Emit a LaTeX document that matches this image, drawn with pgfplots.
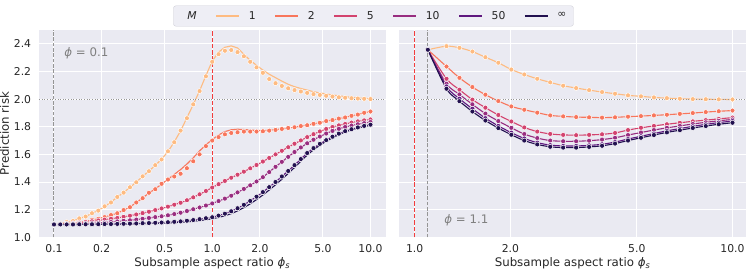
\documentclass[border=0pt]{standalone}
\usepackage{pgfplots}
\pgfplotsset{compat=1.18}
\usepackage{pgfplotstable}
\usepackage{fontspec}
\setmainfont{DejaVu Sans}
\definecolor{cA}{HTML}{FEBB81}
\definecolor{cB}{HTML}{F8765C}
\definecolor{cC}{HTML}{D3436E}
\definecolor{cD}{HTML}{982D80}
\definecolor{cE}{HTML}{5F187F}
\definecolor{cF}{HTML}{221150}
\definecolor{bg}{HTML}{EAEAF2}
\definecolor{tickc}{HTML}{262626}
\definecolor{legfill}{HTML}{EEEEF5}
\definecolor{legedge}{HTML}{D0D0D8}
\definecolor{refred}{HTML}{F23C3C}
\definecolor{refgray}{HTML}{959595}

\pgfplotstableread{
x l1 p1 l2 p2 l5 l10 l50 linf
0.1 1.093 1.093 1.093 1.093 1.093 1.093 1.093 1.093
0.1096 1.100 1.098 1.095 1.094 1.096 1.094 1.093 1.092
0.1202 1.108 1.110 1.098 1.099 1.099 1.095 1.093 1.092
0.1318 1.120 1.118 1.102 1.101 1.102 1.097 1.093 1.092
0.1445 1.135 1.137 1.108 1.108 1.106 1.098 1.094 1.093
0.1585 1.152 1.150 1.115 1.113 1.110 1.100 1.094 1.093
0.1738 1.172 1.174 1.125 1.127 1.116 1.102 1.094 1.093
0.1905 1.195 1.193 1.135 1.134 1.122 1.104 1.095 1.094
0.2089 1.222 1.224 1.147 1.146 1.128 1.107 1.096 1.094
0.2291 1.255 1.252 1.160 1.161 1.134 1.111 1.096 1.095
0.2512 1.290 1.292 1.175 1.174 1.140 1.115 1.097 1.095
0.2754 1.325 1.323 1.195 1.197 1.148 1.119 1.098 1.096
0.3020 1.360 1.362 1.220 1.218 1.156 1.123 1.099 1.097
0.3311 1.400 1.398 1.250 1.252 1.165 1.128 1.100 1.098
0.3631 1.440 1.441 1.285 1.283 1.175 1.134 1.102 1.099
0.3981 1.480 1.478 1.320 1.322 1.185 1.140 1.103 1.100
0.4365 1.520 1.522 1.350 1.348 1.197 1.146 1.105 1.101
0.4786 1.565 1.563 1.385 1.387 1.209 1.152 1.107 1.103
0.5248 1.620 1.622 1.420 1.418 1.222 1.159 1.109 1.104
0.5754 1.690 1.688 1.455 1.440 1.236 1.168 1.112 1.106
0.6310 1.770 1.772 1.490 1.460 1.250 1.178 1.115 1.109
0.6918 1.865 1.862 1.530 1.500 1.268 1.190 1.120 1.112
0.7586 1.960 1.962 1.575 1.550 1.289 1.203 1.125 1.116
0.8318 2.060 2.058 1.625 1.600 1.311 1.216 1.131 1.121
0.9120 2.170 2.165 1.670 1.660 1.335 1.230 1.138 1.127
1.0 2.275 2.270 1.707 1.700 1.360 1.245 1.145 1.134
1.0965 2.340 2.325 1.740 1.725 1.384 1.262 1.157 1.144
1.2023 2.375 2.350 1.765 1.745 1.408 1.280 1.171 1.156
1.3183 2.385 2.355 1.778 1.755 1.431 1.301 1.188 1.171
1.4454 2.370 2.340 1.782 1.760 1.453 1.325 1.210 1.191
1.5849 2.325 2.310 1.780 1.765 1.475 1.350 1.235 1.215
1.7378 2.280 2.270 1.776 1.765 1.499 1.376 1.263 1.242
1.9055 2.245 2.230 1.773 1.765 1.523 1.404 1.294 1.273
2.0893 2.210 2.190 1.772 1.767 1.548 1.435 1.327 1.306
2.2909 2.180 2.145 1.775 1.772 1.574 1.472 1.363 1.342
2.5119 2.155 2.115 1.779 1.777 1.600 1.510 1.400 1.380
2.7542 2.130 2.095 1.785 1.784 1.626 1.546 1.440 1.420
3.0200 2.107 2.078 1.790 1.791 1.652 1.582 1.480 1.462
3.3113 2.090 2.065 1.797 1.796 1.677 1.617 1.522 1.505
3.6308 2.077 2.055 1.804 1.805 1.701 1.650 1.566 1.550
3.9811 2.065 2.045 1.812 1.811 1.725 1.680 1.610 1.595
4.3652 2.054 2.036 1.820 1.821 1.746 1.706 1.645 1.633
4.7863 2.045 2.030 1.830 1.829 1.766 1.729 1.676 1.666
5.2481 2.037 2.024 1.840 1.841 1.784 1.751 1.703 1.695
5.7544 2.030 2.018 1.849 1.848 1.798 1.770 1.728 1.720
6.3096 2.024 2.013 1.858 1.859 1.810 1.785 1.750 1.743
6.9183 2.018 2.010 1.868 1.867 1.820 1.798 1.768 1.762
7.5858 2.013 2.006 1.878 1.879 1.830 1.809 1.782 1.777
8.3176 2.009 2.004 1.889 1.888 1.839 1.818 1.795 1.790
9.1201 2.005 2.002 1.900 1.901 1.846 1.826 1.806 1.801
10.0 2.003 2.000 1.911 1.910 1.853 1.834 1.815 1.810
}\leftdata

\pgfplotstableread{
x r1 r2 r5 r10 r50 rinf
1.1 2.357 2.357 2.357 2.357 2.357 2.357
1.259 2.383 2.236 2.147 2.111 2.092 2.075
1.383 2.371 2.154 2.068 2.034 2.003 1.985
1.519 2.344 2.087 1.996 1.962 1.930 1.910
1.669 2.303 2.032 1.938 1.895 1.862 1.845
1.833 2.263 1.986 1.885 1.841 1.806 1.790
2.014 2.214 1.947 1.838 1.792 1.757 1.742
2.212 2.178 1.923 1.795 1.747 1.715 1.700
2.430 2.147 1.902 1.765 1.718 1.685 1.672
2.669 2.121 1.882 1.748 1.700 1.667 1.655
2.932 2.097 1.875 1.741 1.695 1.661 1.649
3.221 2.080 1.870 1.739 1.695 1.661 1.649
3.538 2.065 1.868 1.741 1.699 1.665 1.654
3.887 2.051 1.866 1.745 1.707 1.673 1.662
4.270 2.039 1.868 1.755 1.720 1.689 1.678
4.690 2.027 1.873 1.776 1.740 1.711 1.700
5.152 2.020 1.877 1.792 1.758 1.731 1.720
5.659 2.012 1.882 1.806 1.776 1.751 1.740
6.217 2.007 1.887 1.818 1.792 1.770 1.759
6.829 2.003 1.893 1.829 1.806 1.787 1.775
7.502 2.000 1.899 1.839 1.820 1.803 1.791
8.241 1.999 1.906 1.848 1.832 1.817 1.805
9.053 1.998 1.912 1.857 1.843 1.830 1.818
10.0 1.997 1.917 1.866 1.853 1.841 1.829
}\rightdata

\begin{document}
\begin{tikzpicture}
\useasboundingbox (-39pt,-32.7pt) rectangle (708pt,237.3pt);
\begin{axis}[
  width=346.6pt, height=207.3pt, scale only axis,
  xmode=log, ymin=1.0, ymax=2.5,
  axis background/.style={fill=bg},
  axis line style={draw=none},
  tick style={draw=none},
  grid=major, major grid style={white, line width=1pt},
  minor xtick={},
  ytick={1.0,1.2,1.4,1.6,1.8,2.0,2.2,2.4},
  tick label style={font=\fontsize{10.8}{13}\selectfont, text=tickc},
  xticklabel style={yshift=-3.4pt},
  yticklabel style={xshift=-4.4pt},
  label style={font=\fontsize{11.8}{14}\selectfont, text=tickc},
  xlabel style={yshift=2pt},
  ylabel style={yshift=-2pt},
  xmin=0.0804, xmax=12.46,
  xtick={0.1,0.2,0.5,1,2,5,10},
  xticklabels={0.1,0.2,0.5,1.0,2.0,5.0,10.0},
  yticklabels={1.0,1.2,1.4,1.6,1.8,2.0,2.2,2.4},
  xlabel={Subsample aspect ratio {\itshape ϕ}\textsubscript{\itshape s}},
  ylabel={Prediction risk},
  legend columns=7,
  legend image code/.code={\draw[mark repeat=2,mark phase=2,#1] plot coordinates {(0pt,0pt) (11.5pt,0pt) (23pt,0pt)};},
  legend style={at={(0.965,1.0675)}, anchor=center, draw=legedge, fill=legfill,
    rounded corners=2.5pt, font=\fontsize{10.8}{13}\selectfont, text=tickc,
    inner xsep=5pt, inner ysep=3.5pt,
    /tikz/every odd column/.append style={column sep=7pt},
    /tikz/every even column/.append style={column sep=17pt}},
]
\addlegendimage{empty legend}\addlegendentry{\itshape M}
\addplot[line width=1.1pt, draw=cA] table[x=x,y=l1]{\leftdata};\addlegendentry{1}
\addplot[only marks, mark=*, mark size=2.5pt, forget plot, mark options={fill=cA, draw=white, line width=0.5pt}] table[x=x,y=p1]{\leftdata};
\addplot[line width=1.1pt, draw=cB] table[x=x,y=l2]{\leftdata};\addlegendentry{2}
\addplot[only marks, mark=*, mark size=2.5pt, forget plot, mark options={fill=cB, draw=white, line width=0.5pt}] table[x=x,y=p2]{\leftdata};
\addplot[line width=1.1pt, draw=cC] table[x=x,y=l5]{\leftdata};\addlegendentry{5}
\addplot[only marks, mark=*, mark size=2.5pt, forget plot, mark options={fill=cC, draw=white, line width=0.5pt}] table[x=x,y=l5]{\leftdata};
\addplot[line width=1.1pt, draw=cD] table[x=x,y=l10]{\leftdata};\addlegendentry{10}
\addplot[only marks, mark=*, mark size=2.5pt, forget plot, mark options={fill=cD, draw=white, line width=0.5pt}] table[x=x,y=l10]{\leftdata};
\addplot[line width=1.1pt, draw=cE] table[x=x,y=l50]{\leftdata};\addlegendentry{50}
\addplot[only marks, mark=*, mark size=2.5pt, forget plot, mark options={fill=cE, draw=white, line width=0.5pt}] table[x=x,y=l50]{\leftdata};
\addplot[line width=1.1pt, draw=cF] table[x=x,y=linf]{\leftdata};\addlegendentry{∞}
\addplot[only marks, mark=*, mark size=2.5pt, forget plot, mark options={fill=cF, draw=white, line width=0.5pt}] table[x=x,y=l50]{\leftdata};
\addplot[refgray, line width=1pt, dash pattern=on 1pt off 1.65pt, forget plot] coordinates {(0.0804,2.0) (12.46,2.0)};
\addplot[refgray, line width=1pt, dash pattern=on 3.7pt off 1.6pt, forget plot] coordinates {(0.1,1.0) (0.1,2.5)};
\addplot[refred, line width=1.2pt, dash pattern=on 4.4pt off 1.9pt, forget plot] coordinates {(1,1.0) (1,2.5)};
\node[anchor=west, text=gray, font=\fontsize{11.8}{14}\selectfont] at (rel axis cs:0.063,0.889) {{\itshape ϕ} = 0.1};
\end{axis}

\begin{axis}[at={(360.3pt,0pt)},
  width=346.6pt, height=207.3pt, scale only axis,
  xmode=log, ymin=1.0, ymax=2.5,
  axis background/.style={fill=bg},
  axis line style={draw=none},
  tick style={draw=none},
  grid=major, major grid style={white, line width=1pt},
  minor xtick={},
  ytick={1.0,1.2,1.4,1.6,1.8,2.0,2.2,2.4},
  tick label style={font=\fontsize{10.8}{13}\selectfont, text=tickc},
  xticklabel style={yshift=-3.4pt},
  label style={font=\fontsize{11.8}{14}\selectfont, text=tickc},
  xlabel style={yshift=2pt},
  xmin=0.8944, xmax=11.02,
  xtick={1,2,5,10},
  xticklabels={1.0,2.0,5.0,10.0},
  yticklabels={},
  xlabel={Subsample aspect ratio {\itshape ϕ}\textsubscript{\itshape s}},
]
\addplot[line width=1.1pt, draw=cA, smooth] table[x=x,y=r1]{\rightdata};
\addplot[only marks, mark=*, mark size=2.5pt, mark options={fill=cA, draw=white, line width=0.5pt}] table[x=x,y=r1]{\rightdata};
\addplot[line width=1.1pt, draw=cB, smooth] table[x=x,y=r2]{\rightdata};
\addplot[only marks, mark=*, mark size=2.5pt, mark options={fill=cB, draw=white, line width=0.5pt}] table[x=x,y=r2]{\rightdata};
\addplot[line width=1.1pt, draw=cC, smooth] table[x=x,y=r5]{\rightdata};
\addplot[only marks, mark=*, mark size=2.5pt, mark options={fill=cC, draw=white, line width=0.5pt}] table[x=x,y=r5]{\rightdata};
\addplot[line width=1.1pt, draw=cD, smooth] table[x=x,y=r10]{\rightdata};
\addplot[only marks, mark=*, mark size=2.5pt, mark options={fill=cD, draw=white, line width=0.5pt}] table[x=x,y=r10]{\rightdata};
\addplot[line width=1.1pt, draw=cE, smooth] table[x=x,y=r50]{\rightdata};
\addplot[only marks, mark=*, mark size=2.5pt, mark options={fill=cE, draw=white, line width=0.5pt}] table[x=x,y=r50]{\rightdata};
\addplot[line width=1.1pt, draw=cF, smooth] table[x=x,y=rinf]{\rightdata};
\addplot[only marks, mark=*, mark size=2.5pt, mark options={fill=cF, draw=white, line width=0.5pt}] table[x=x,y=rinf]{\rightdata};
\addplot[refgray, line width=1pt, dash pattern=on 1pt off 1.65pt] coordinates {(0.8944,2.0) (11.02,2.0)};
\addplot[refgray, line width=1pt, dash pattern=on 3.7pt off 1.6pt] coordinates {(1.1,1.0) (1.1,2.5)};
\addplot[refred, line width=1.2pt, dash pattern=on 4.4pt off 1.9pt] coordinates {(1,1.0) (1,2.5)};
\node[anchor=west, text=gray, font=\fontsize{11.8}{14}\selectfont] at (rel axis cs:0.12,0.083) {{\itshape ϕ} = 1.1};
\end{axis}
\end{tikzpicture}
\end{document}
